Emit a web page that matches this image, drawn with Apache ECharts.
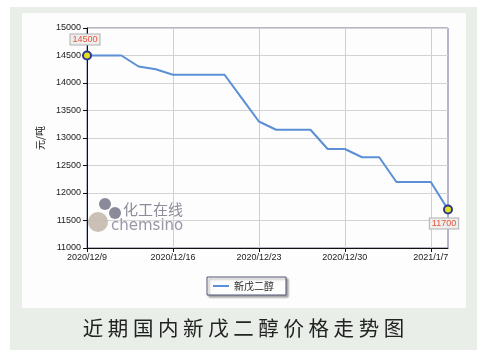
<!DOCTYPE html>
<html><head><meta charset="utf-8">
<script src="https://cdn.jsdelivr.net/npm/echarts@6/dist/echarts.min.js"></script>
<style>html,body{margin:0;padding:0;background:#fff}#c{width:487px;height:359px}</style>
</head><body><div id="c"></div>
<script>
const categories = ['2020/12/9','2020/12/10','2020/12/11','2020/12/14','2020/12/15','2020/12/16','2020/12/17','2020/12/18','2020/12/21','2020/12/22','2020/12/23','2020/12/24','2020/12/25','2020/12/28','2020/12/29','2020/12/30','2020/12/31','2021/1/4','2021/1/5','2021/1/6','2021/1/7','2021/1/8'];
const prices = [14500,14500,14500,14300,14250,14150,14150,14150,14150,13725,13300,13150,13150,13150,12800,12800,12650,12650,12200,12200,12200,11700];
const seriesName = '新戊二醇';
const yAxisName = '元/吨';
const chartTitle = '近期国内新戊二醇价格走势图';

const font = '"Liberation Sans", Arial, sans-serif';
const cjk = '"Noto Sans CJK SC", sans-serif';
const last = prices.length - 1;
const lineData = prices.map((v, i) => {
  if (i === 0 || i === last) {
    return {
      value: v, symbol: 'circle', symbolSize: 8,
      label: {
        show: true, position: i === 0 ? 'top' : 'bottom', distance: i === 0 ? 6 : 4,
        offset: i === 0 ? [-2, 0] : [-4, 0],
        formatter: '{c}', color: '#e8553a', fontSize: 9, fontFamily: font,
        backgroundColor: '#eeeeee', borderColor: '#b0b0b0', borderWidth: 1, padding: [1, 2, 0, 2]
      }
    };
  }
  return { value: v, symbol: 'none' };
});

const chart = echarts.init(document.getElementById('c'), null, { renderer: 'canvas' });
chart.setOption({
  animation: false,
  backgroundColor: '#ffffff',
  graphic: [
    { type: 'rect', z: -20, shape: { x: 10, y: 7, width: 467, height: 343 }, style: { fill: '#e9eee8' } },
    { type: 'rect', z: -10, shape: { x: 22, y: 13, width: 444, height: 295 }, style: { fill: '#fdfdfd' } },
    { type: 'circle', z: 1, shape: { cx: 98, cy: 222, r: 10 }, style: { fill: '#c4b9ad', opacity: 0.9 } },
    { type: 'circle', z: 1, shape: { cx: 105, cy: 204, r: 6 }, style: { fill: '#7d7d90', opacity: 0.9 } },
    { type: 'circle', z: 1, shape: { cx: 115, cy: 213, r: 6 }, style: { fill: '#7d7d90', opacity: 0.9 } },
    { type: 'text', z: 1, left: 123, top: 202, style: { text: '化工在线', fontSize: 15, fontFamily: cjk, fill: '#8c8c9a' } },
    { type: 'text', z: 1, left: 111, top: 219, style: { text: 'chemsino', fontSize: 15, fontFamily: '"DejaVu Sans", sans-serif', fill: '#9797a6' } }
  ],
  title: {
    text: chartTitle.split('').join(' '),
    left: 'center', top: 313,
    textStyle: { fontFamily: cjk, fontSize: 20.5, fontWeight: 'normal', color: '#222' }
  },
  legend: {
    data: [seriesName], left: 207, top: 277,
    backgroundColor: '#fdfdfd', borderColor: '#55557a', borderWidth: 1,
    shadowBlur: 2, shadowColor: 'rgba(0,0,0,0.35)', shadowOffsetX: 2, shadowOffsetY: 2,
    padding: [4, 12, 4, 6], itemWidth: 16, itemHeight: 2, icon: 'rect', itemGap: 4,
    itemStyle: { color: '#5b8fd6', borderWidth: 0 },
    textStyle: { fontFamily: cjk, fontSize: 10, color: '#222' }
  },
  grid: { left: 87, right: 39, top: 28, bottom: 111, show: true, borderColor: '#6f6f95', borderWidth: 1, backgroundColor: 'transparent' },
  xAxis: {
    type: 'category', data: categories, boundaryGap: false,
    axisLine: { lineStyle: { color: '#111', width: 1 } },
    axisTick: { show: true, interval: 4, length: 4, lineStyle: { color: '#111' } },
    axisLabel: { interval: 4, fontSize: 9, fontFamily: font, color: '#222', margin: 5 },
    splitLine: { show: true, interval: 4, lineStyle: { color: '#cfcfcf', width: 1 } }
  },
  yAxis: {
    type: 'value', min: 11000, max: 15000, interval: 500,
    name: yAxisName, nameLocation: 'middle', nameGap: 34, nameRotate: 90,
    nameTextStyle: { fontFamily: cjk, fontSize: 10, color: '#222' },
    axisLine: { show: true, lineStyle: { color: '#111', width: 1 } },
    axisTick: { show: true, length: 4, lineStyle: { color: '#111' } },
    axisLabel: { fontSize: 9, fontFamily: font, color: '#222', margin: 6, formatter: v => String(v) },
    splitLine: { show: true, lineStyle: { color: '#d2d2d2', width: 1 } }
  },
  series: [{
    name: seriesName, type: 'line', data: lineData, showAllSymbol: true,
    lineStyle: { color: '#5b8fd6', width: 2 },
    itemStyle: { color: '#e6e020', borderColor: '#2a3a8c', borderWidth: 2 },
    z: 5
  }]
});
</script></body></html>
